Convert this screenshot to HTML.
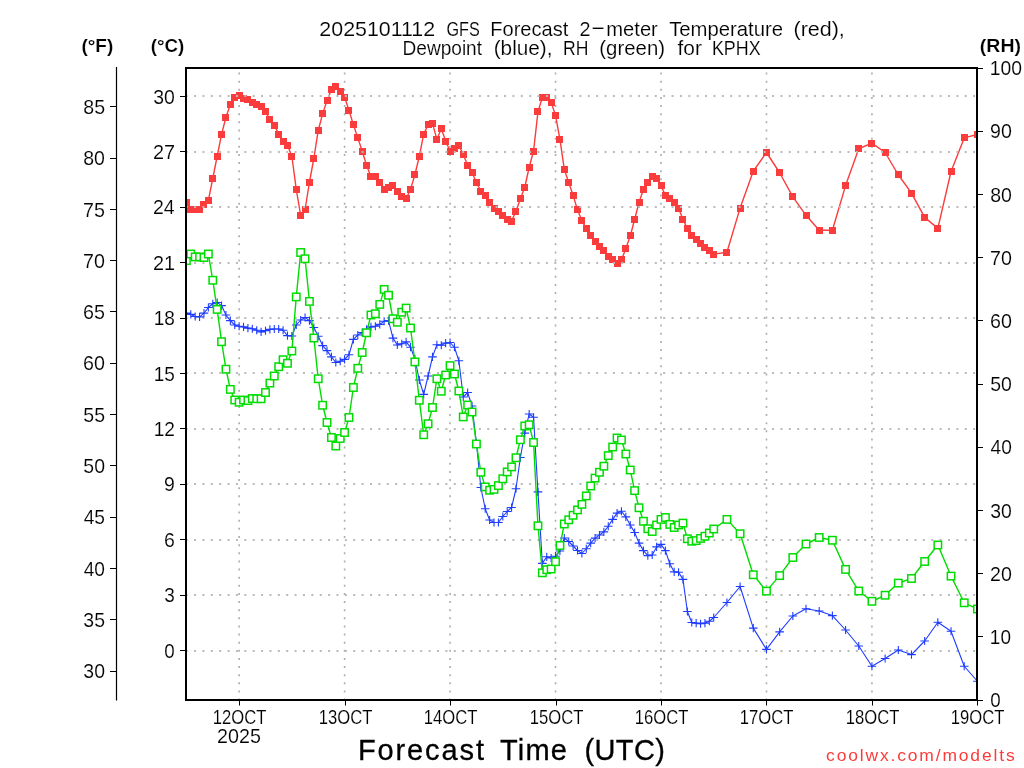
<!DOCTYPE html>
<html><head><meta charset="utf-8"><title>GFS Forecast KPHX</title>
<style>html,body{margin:0;padding:0;background:#fff;width:1024px;height:768px;overflow:hidden}svg{display:block;will-change:transform}</style>
</head><body>
<svg width="1024" height="768" viewBox="0 0 1024 768">
<defs><clipPath id="pc"><rect x="186" y="68" width="791" height="632"/></clipPath></defs>
<rect x="0" y="0" width="1024" height="768" fill="#fff"/>
<g clip-path="url(#pc)">
<g stroke="#adadad" stroke-width="1.6" stroke-dasharray="2 6.13" fill="none">
<line x1="239.13" y1="700.6" x2="239.13" y2="68"/>
<line x1="344.6" y1="700.6" x2="344.6" y2="68"/>
<line x1="450.07" y1="700.6" x2="450.07" y2="68"/>
<line x1="555.53" y1="700.6" x2="555.53" y2="68"/>
<line x1="661" y1="700.6" x2="661" y2="68"/>
<line x1="766.47" y1="700.6" x2="766.47" y2="68"/>
<line x1="871.93" y1="700.6" x2="871.93" y2="68"/>
</g>
<polyline fill="none" stroke="#fa3c3c" stroke-width="1.4" stroke-linejoin="round" points="186.4,202.6 190.79,210 195.19,210 199.58,210 203.98,204.4 208.37,200.4 212.77,178.5 217.16,156.25 221.56,134.4 225.95,117.25 230.34,104.4 234.74,97.5 239.13,95.6 243.53,98.75 247.92,100 252.32,102.25 256.71,104.1 261.11,106.25 265.5,111.9 269.89,119.4 274.29,125 278.68,134.4 283.08,141.25 287.47,145.25 291.87,156.25 296.26,189.4 300.66,215.25 305.05,209.75 309.44,182.25 313.84,158.5 318.23,130.4 322.63,113.75 327.02,100.6 331.42,89.75 335.81,86.25 340.21,91.25 344.6,97.25 348.99,110.4 353.39,124.75 357.78,137.9 362.18,151 366.57,165.4 370.97,176.5 375.36,176.5 379.76,182.25 384.15,189 388.54,187.25 392.94,185.6 397.33,191 401.73,196.9 406.12,198.75 410.52,189.4 414.91,174.75 419.31,156.25 423.7,134.1 428.09,124.75 432.49,123.4 436.88,139.4 441.28,128.5 445.67,141.25 450.07,151 454.46,148.1 458.86,145.6 463.25,154.4 467.64,165.25 472.04,172.75 476.43,182.25 480.83,191.25 485.22,195.4 489.62,202.25 494.01,208.1 498.41,211.5 502.8,215.25 507.19,219.4 511.59,221 515.98,211.25 520.38,198.75 524.77,187.25 529.17,167.25 533.56,151 537.96,111.9 542.35,97.25 546.74,97.25 551.14,102.25 555.53,115.4 559.93,139.4 564.32,169.4 568.72,182.5 573.11,195.4 577.51,210 581.9,220.6 586.29,228.4 590.69,235.9 595.08,241.6 599.48,246.9 603.87,250.6 608.27,256.25 612.66,260 617.06,263.4 621.45,260 625.84,248.4 630.24,236 634.63,219.5 639.03,202.25 643.42,189.5 647.82,182.25 652.21,176.6 656.61,178.25 661,185.75 665.39,195.4 669.79,198.75 674.18,202.25 678.58,208.25 682.97,219.5 687.37,228.5 691.76,235.75 696.16,239.1 700.55,243.5 704.94,247 709.34,250.4 713.73,254.1 726.92,252.25 740.1,208.1 753.28,171.25 766.47,152.5 779.65,172.75 792.83,196.9 806.02,215.3 819.2,230.3 832.38,230.3 845.57,185.6 858.75,148.75 871.93,143.1 885.12,152.5 898.3,174.75 911.48,193.1 924.67,217.4 937.85,228.4 951.03,171.5 964.22,137.9 977.4,134.4"/>
<g fill="#fa3c3c">
<rect x="183" y="199" width="7" height="7"/>
<rect x="187" y="206" width="7" height="7"/>
<rect x="192" y="206" width="7" height="7"/>
<rect x="196" y="206" width="7" height="7"/>
<rect x="200" y="201" width="7" height="7"/>
<rect x="205" y="197" width="7" height="7"/>
<rect x="209" y="175" width="7" height="7"/>
<rect x="214" y="153" width="7" height="7"/>
<rect x="218" y="131" width="7" height="7"/>
<rect x="222" y="114" width="7" height="7"/>
<rect x="227" y="101" width="7" height="7"/>
<rect x="231" y="94" width="7" height="7"/>
<rect x="236" y="92" width="7" height="7"/>
<rect x="240" y="95" width="7" height="7"/>
<rect x="244" y="96" width="7" height="7"/>
<rect x="249" y="99" width="7" height="7"/>
<rect x="253" y="101" width="7" height="7"/>
<rect x="258" y="103" width="7" height="7"/>
<rect x="262" y="108" width="7" height="7"/>
<rect x="266" y="116" width="7" height="7"/>
<rect x="271" y="122" width="7" height="7"/>
<rect x="275" y="131" width="7" height="7"/>
<rect x="280" y="138" width="7" height="7"/>
<rect x="284" y="142" width="7" height="7"/>
<rect x="288" y="153" width="7" height="7"/>
<rect x="293" y="186" width="7" height="7"/>
<rect x="297" y="212" width="7" height="7"/>
<rect x="302" y="206" width="7" height="7"/>
<rect x="306" y="179" width="7" height="7"/>
<rect x="310" y="155" width="7" height="7"/>
<rect x="315" y="127" width="7" height="7"/>
<rect x="319" y="110" width="7" height="7"/>
<rect x="324" y="97" width="7" height="7"/>
<rect x="328" y="86" width="7" height="7"/>
<rect x="332" y="83" width="7" height="7"/>
<rect x="337" y="88" width="7" height="7"/>
<rect x="341" y="94" width="7" height="7"/>
<rect x="345" y="107" width="7" height="7"/>
<rect x="350" y="121" width="7" height="7"/>
<rect x="354" y="134" width="7" height="7"/>
<rect x="359" y="148" width="7" height="7"/>
<rect x="363" y="162" width="7" height="7"/>
<rect x="367" y="173" width="7" height="7"/>
<rect x="372" y="173" width="7" height="7"/>
<rect x="376" y="179" width="7" height="7"/>
<rect x="381" y="186" width="7" height="7"/>
<rect x="385" y="184" width="7" height="7"/>
<rect x="389" y="182" width="7" height="7"/>
<rect x="394" y="188" width="7" height="7"/>
<rect x="398" y="193" width="7" height="7"/>
<rect x="403" y="195" width="7" height="7"/>
<rect x="407" y="186" width="7" height="7"/>
<rect x="411" y="171" width="7" height="7"/>
<rect x="416" y="153" width="7" height="7"/>
<rect x="420" y="131" width="7" height="7"/>
<rect x="425" y="121" width="7" height="7"/>
<rect x="429" y="120" width="7" height="7"/>
<rect x="433" y="136" width="7" height="7"/>
<rect x="438" y="125" width="7" height="7"/>
<rect x="442" y="138" width="7" height="7"/>
<rect x="447" y="148" width="7" height="7"/>
<rect x="451" y="145" width="7" height="7"/>
<rect x="455" y="142" width="7" height="7"/>
<rect x="460" y="151" width="7" height="7"/>
<rect x="464" y="162" width="7" height="7"/>
<rect x="469" y="169" width="7" height="7"/>
<rect x="473" y="179" width="7" height="7"/>
<rect x="477" y="188" width="7" height="7"/>
<rect x="482" y="192" width="7" height="7"/>
<rect x="486" y="199" width="7" height="7"/>
<rect x="491" y="205" width="7" height="7"/>
<rect x="495" y="208" width="7" height="7"/>
<rect x="499" y="212" width="7" height="7"/>
<rect x="504" y="216" width="7" height="7"/>
<rect x="508" y="218" width="7" height="7"/>
<rect x="512" y="208" width="7" height="7"/>
<rect x="517" y="195" width="7" height="7"/>
<rect x="521" y="184" width="7" height="7"/>
<rect x="526" y="164" width="7" height="7"/>
<rect x="530" y="148" width="7" height="7"/>
<rect x="534" y="108" width="7" height="7"/>
<rect x="539" y="94" width="7" height="7"/>
<rect x="543" y="94" width="7" height="7"/>
<rect x="548" y="99" width="7" height="7"/>
<rect x="552" y="112" width="7" height="7"/>
<rect x="556" y="136" width="7" height="7"/>
<rect x="561" y="166" width="7" height="7"/>
<rect x="565" y="179" width="7" height="7"/>
<rect x="570" y="192" width="7" height="7"/>
<rect x="574" y="206" width="7" height="7"/>
<rect x="578" y="217" width="7" height="7"/>
<rect x="583" y="225" width="7" height="7"/>
<rect x="587" y="232" width="7" height="7"/>
<rect x="592" y="238" width="7" height="7"/>
<rect x="596" y="243" width="7" height="7"/>
<rect x="600" y="247" width="7" height="7"/>
<rect x="605" y="253" width="7" height="7"/>
<rect x="609" y="256" width="7" height="7"/>
<rect x="614" y="260" width="7" height="7"/>
<rect x="618" y="256" width="7" height="7"/>
<rect x="622" y="245" width="7" height="7"/>
<rect x="627" y="232" width="7" height="7"/>
<rect x="631" y="216" width="7" height="7"/>
<rect x="636" y="199" width="7" height="7"/>
<rect x="640" y="186" width="7" height="7"/>
<rect x="644" y="179" width="7" height="7"/>
<rect x="649" y="173" width="7" height="7"/>
<rect x="653" y="175" width="7" height="7"/>
<rect x="658" y="182" width="7" height="7"/>
<rect x="662" y="192" width="7" height="7"/>
<rect x="666" y="195" width="7" height="7"/>
<rect x="671" y="199" width="7" height="7"/>
<rect x="675" y="205" width="7" height="7"/>
<rect x="679" y="216" width="7" height="7"/>
<rect x="684" y="225" width="7" height="7"/>
<rect x="688" y="232" width="7" height="7"/>
<rect x="693" y="236" width="7" height="7"/>
<rect x="697" y="240" width="7" height="7"/>
<rect x="701" y="244" width="7" height="7"/>
<rect x="706" y="247" width="7" height="7"/>
<rect x="710" y="251" width="7" height="7"/>
<rect x="723" y="249" width="7" height="7"/>
<rect x="737" y="205" width="7" height="7"/>
<rect x="750" y="168" width="7" height="7"/>
<rect x="763" y="149" width="7" height="7"/>
<rect x="776" y="169" width="7" height="7"/>
<rect x="789" y="193" width="7" height="7"/>
<rect x="803" y="212" width="7" height="7"/>
<rect x="816" y="227" width="7" height="7"/>
<rect x="829" y="227" width="7" height="7"/>
<rect x="842" y="182" width="7" height="7"/>
<rect x="855" y="145" width="7" height="7"/>
<rect x="868" y="140" width="7" height="7"/>
<rect x="882" y="149" width="7" height="7"/>
<rect x="895" y="171" width="7" height="7"/>
<rect x="908" y="190" width="7" height="7"/>
<rect x="921" y="214" width="7" height="7"/>
<rect x="934" y="225" width="7" height="7"/>
<rect x="948" y="168" width="7" height="7"/>
<rect x="961" y="134" width="7" height="7"/>
<rect x="974" y="131" width="7" height="7"/>
</g>
<g stroke="#bababa" stroke-width="2" stroke-dasharray="2 6.377" fill="none">
<line x1="185.69" y1="651" x2="977.0" y2="651"/>
<line x1="185.69" y1="595" x2="977.0" y2="595"/>
<line x1="185.69" y1="540" x2="977.0" y2="540"/>
<line x1="185.69" y1="484" x2="977.0" y2="484"/>
<line x1="185.69" y1="429" x2="977.0" y2="429"/>
<line x1="185.69" y1="373" x2="977.0" y2="373"/>
<line x1="185.69" y1="318" x2="977.0" y2="318"/>
<line x1="185.69" y1="263" x2="977.0" y2="263"/>
<line x1="185.69" y1="207" x2="977.0" y2="207"/>
<line x1="185.69" y1="152" x2="977.0" y2="152"/>
<line x1="185.69" y1="96" x2="977.0" y2="96"/>
</g>
<polyline fill="none" stroke="#1e3cff" stroke-width="1.1" stroke-linejoin="round" points="186.4,313.1 190.79,314.4 195.19,316.5 199.58,316.9 203.98,313.1 208.37,307.5 212.77,303.75 217.16,302.5 221.56,305.6 225.95,315 230.34,320.6 234.74,325 239.13,326.25 243.53,326.9 247.92,328.1 252.32,328.75 256.71,330.25 261.11,331.9 265.5,330.6 269.89,329.4 274.29,329 278.68,329 283.08,330.25 287.47,335.6 291.87,336 296.26,325 300.66,320 305.05,317.5 309.44,320.6 313.84,327.5 318.23,336.25 322.63,345.6 327.02,350.6 331.42,356.9 335.81,362.5 340.21,361.25 344.6,359.4 348.99,354.75 353.39,339.4 357.78,335 362.18,332.5 366.57,329.4 370.97,326.9 375.36,326.25 379.76,324.4 384.15,321.25 388.54,320.6 392.94,338.1 397.33,345 401.73,343.75 406.12,341.9 410.52,347.2 414.91,359 419.31,380 423.7,394.4 428.09,376 432.49,356.9 436.88,344.75 441.28,345.25 445.67,343.1 450.07,342.5 454.46,347.25 458.86,360.8 463.25,397 467.64,392.5 472.04,406 476.43,443 480.83,487.5 485.22,508.75 489.62,520 494.01,522.5 498.41,522.5 502.8,516.5 507.19,511.5 511.59,507.5 515.98,488.75 520.38,457.5 524.77,433.1 529.17,414 533.56,417.25 537.96,491.9 542.35,563.4 546.74,556.8 551.14,558 555.53,556.2 559.93,551 564.32,538 568.72,541.5 573.11,546 577.51,550.5 581.9,553.5 586.29,548.75 590.69,543.1 595.08,538.1 599.48,535 603.87,531.9 608.27,526.25 612.66,519.4 617.06,513.1 621.45,511.25 625.84,516.9 630.24,525 634.63,532.5 639.03,543.1 643.42,550.6 647.82,555.6 652.21,555 656.61,546.9 661,544.4 665.39,550.6 669.79,563.75 674.18,571.9 678.58,572.25 682.97,579.4 687.37,611.5 691.76,622.5 696.16,623.1 700.55,623.75 704.94,623.1 709.34,621.25 713.73,617.5 726.92,602.5 740.1,586.5 753.28,628.1 766.47,649.4 779.65,631.9 792.83,616 806.02,608.75 819.2,611 832.38,615.6 845.57,630 858.75,646 871.93,666.25 885.12,658.5 898.3,650 911.48,654.6 924.67,641 937.85,622.25 951.03,631.25 964.22,666.25 977.4,681.25"/>
<path fill="none" stroke="#1e3cff" stroke-width="1.1" d="M182.1 313.1h8.6M186.4 309v8.2M186.49 314.4h8.6M190.79 310.3v8.2M190.89 316.5h8.6M195.19 312.4v8.2M195.28 316.9h8.6M199.58 312.8v8.2M199.68 313.1h8.6M203.98 309v8.2M204.07 307.5h8.6M208.37 303.4v8.2M208.47 303.75h8.6M212.77 299.65v8.2M212.86 302.5h8.6M217.16 298.4v8.2M217.26 305.6h8.6M221.56 301.5v8.2M221.65 315h8.6M225.95 310.9v8.2M226.04 320.6h8.6M230.34 316.5v8.2M230.44 325h8.6M234.74 320.9v8.2M234.83 326.25h8.6M239.13 322.15v8.2M239.23 326.9h8.6M243.53 322.8v8.2M243.62 328.1h8.6M247.92 324v8.2M248.02 328.75h8.6M252.32 324.65v8.2M252.41 330.25h8.6M256.71 326.15v8.2M256.81 331.9h8.6M261.11 327.8v8.2M261.2 330.6h8.6M265.5 326.5v8.2M265.59 329.4h8.6M269.89 325.3v8.2M269.99 329h8.6M274.29 324.9v8.2M274.38 329h8.6M278.68 324.9v8.2M278.78 330.25h8.6M283.08 326.15v8.2M283.17 335.6h8.6M287.47 331.5v8.2M287.57 336h8.6M291.87 331.9v8.2M291.96 325h8.6M296.26 320.9v8.2M296.36 320h8.6M300.66 315.9v8.2M300.75 317.5h8.6M305.05 313.4v8.2M305.14 320.6h8.6M309.44 316.5v8.2M309.54 327.5h8.6M313.84 323.4v8.2M313.93 336.25h8.6M318.23 332.15v8.2M318.33 345.6h8.6M322.63 341.5v8.2M322.72 350.6h8.6M327.02 346.5v8.2M327.12 356.9h8.6M331.42 352.8v8.2M331.51 362.5h8.6M335.81 358.4v8.2M335.91 361.25h8.6M340.21 357.15v8.2M340.3 359.4h8.6M344.6 355.3v8.2M344.69 354.75h8.6M348.99 350.65v8.2M349.09 339.4h8.6M353.39 335.3v8.2M353.48 335h8.6M357.78 330.9v8.2M357.88 332.5h8.6M362.18 328.4v8.2M362.27 329.4h8.6M366.57 325.3v8.2M366.67 326.9h8.6M370.97 322.8v8.2M371.06 326.25h8.6M375.36 322.15v8.2M375.46 324.4h8.6M379.76 320.3v8.2M379.85 321.25h8.6M384.15 317.15v8.2M384.24 320.6h8.6M388.54 316.5v8.2M388.64 338.1h8.6M392.94 334v8.2M393.03 345h8.6M397.33 340.9v8.2M397.43 343.75h8.6M401.73 339.65v8.2M401.82 341.9h8.6M406.12 337.8v8.2M406.22 347.2h8.6M410.52 343.1v8.2M410.61 359h8.6M414.91 354.9v8.2M415.01 380h8.6M419.31 375.9v8.2M419.4 394.4h8.6M423.7 390.3v8.2M423.79 376h8.6M428.09 371.9v8.2M428.19 356.9h8.6M432.49 352.8v8.2M432.58 344.75h8.6M436.88 340.65v8.2M436.98 345.25h8.6M441.28 341.15v8.2M441.37 343.1h8.6M445.67 339v8.2M445.77 342.5h8.6M450.07 338.4v8.2M450.16 347.25h8.6M454.46 343.15v8.2M454.56 360.8h8.6M458.86 356.7v8.2M458.95 397h8.6M463.25 392.9v8.2M463.34 392.5h8.6M467.64 388.4v8.2M467.74 406h8.6M472.04 401.9v8.2M472.13 443h8.6M476.43 438.9v8.2M476.53 487.5h8.6M480.83 483.4v8.2M480.92 508.75h8.6M485.22 504.65v8.2M485.32 520h8.6M489.62 515.9v8.2M489.71 522.5h8.6M494.01 518.4v8.2M494.11 522.5h8.6M498.41 518.4v8.2M498.5 516.5h8.6M502.8 512.4v8.2M502.89 511.5h8.6M507.19 507.4v8.2M507.29 507.5h8.6M511.59 503.4v8.2M511.68 488.75h8.6M515.98 484.65v8.2M516.08 457.5h8.6M520.38 453.4v8.2M520.47 433.1h8.6M524.77 429v8.2M524.87 414h8.6M529.17 409.9v8.2M529.26 417.25h8.6M533.56 413.15v8.2M533.66 491.9h8.6M537.96 487.8v8.2M538.05 563.4h8.6M542.35 559.3v8.2M542.44 556.8h8.6M546.74 552.7v8.2M546.84 558h8.6M551.14 553.9v8.2M551.23 556.2h8.6M555.53 552.1v8.2M555.63 551h8.6M559.93 546.9v8.2M560.02 538h8.6M564.32 533.9v8.2M564.42 541.5h8.6M568.72 537.4v8.2M568.81 546h8.6M573.11 541.9v8.2M573.21 550.5h8.6M577.51 546.4v8.2M577.6 553.5h8.6M581.9 549.4v8.2M581.99 548.75h8.6M586.29 544.65v8.2M586.39 543.1h8.6M590.69 539v8.2M590.78 538.1h8.6M595.08 534v8.2M595.18 535h8.6M599.48 530.9v8.2M599.57 531.9h8.6M603.87 527.8v8.2M603.97 526.25h8.6M608.27 522.15v8.2M608.36 519.4h8.6M612.66 515.3v8.2M612.76 513.1h8.6M617.06 509v8.2M617.15 511.25h8.6M621.45 507.15v8.2M621.54 516.9h8.6M625.84 512.8v8.2M625.94 525h8.6M630.24 520.9v8.2M630.33 532.5h8.6M634.63 528.4v8.2M634.73 543.1h8.6M639.03 539v8.2M639.12 550.6h8.6M643.42 546.5v8.2M643.52 555.6h8.6M647.82 551.5v8.2M647.91 555h8.6M652.21 550.9v8.2M652.31 546.9h8.6M656.61 542.8v8.2M656.7 544.4h8.6M661 540.3v8.2M661.09 550.6h8.6M665.39 546.5v8.2M665.49 563.75h8.6M669.79 559.65v8.2M669.88 571.9h8.6M674.18 567.8v8.2M674.28 572.25h8.6M678.58 568.15v8.2M678.67 579.4h8.6M682.97 575.3v8.2M683.07 611.5h8.6M687.37 607.4v8.2M687.46 622.5h8.6M691.76 618.4v8.2M691.86 623.1h8.6M696.16 619v8.2M696.25 623.75h8.6M700.55 619.65v8.2M700.64 623.1h8.6M704.94 619v8.2M705.04 621.25h8.6M709.34 617.15v8.2M709.43 617.5h8.6M713.73 613.4v8.2M722.62 602.5h8.6M726.92 598.4v8.2M735.8 586.5h8.6M740.1 582.4v8.2M748.98 628.1h8.6M753.28 624v8.2M762.17 649.4h8.6M766.47 645.3v8.2M775.35 631.9h8.6M779.65 627.8v8.2M788.53 616h8.6M792.83 611.9v8.2M801.72 608.75h8.6M806.02 604.65v8.2M814.9 611h8.6M819.2 606.9v8.2M828.08 615.6h8.6M832.38 611.5v8.2M841.27 630h8.6M845.57 625.9v8.2M854.45 646h8.6M858.75 641.9v8.2M867.63 666.25h8.6M871.93 662.15v8.2M880.82 658.5h8.6M885.12 654.4v8.2M894 650h8.6M898.3 645.9v8.2M907.18 654.6h8.6M911.48 650.5v8.2M920.37 641h8.6M924.67 636.9v8.2M933.55 622.25h8.6M937.85 618.15v8.2M946.73 631.25h8.6M951.03 627.15v8.2M959.92 666.25h8.6M964.22 662.15v8.2M973.1 681.25h8.6M977.4 677.15v8.2"/>
<polyline fill="none" stroke="#00dc00" stroke-width="1.4" stroke-linejoin="round" points="186.4,260.6 190.79,254 195.19,256.9 199.58,256.9 203.98,257.5 208.37,254 212.77,280.25 217.16,309.4 221.56,341.7 225.95,369.2 230.34,389.4 234.74,400 239.13,402.25 243.53,400 247.92,400.6 252.32,398.5 256.71,398.75 261.11,398.75 265.5,392.5 269.89,383.1 274.29,376 278.68,366.7 283.08,359.7 287.47,363.3 291.87,351 296.26,296.9 300.66,252.5 305.05,258.75 309.44,301.4 313.84,338 318.23,378.75 322.63,405.25 327.02,422.5 331.42,437.5 335.81,446 340.21,438.5 344.6,432.5 348.99,417.5 353.39,387.5 357.78,368.3 362.18,352.5 366.57,332.75 370.97,315 375.36,313.75 379.76,304.4 384.15,289.4 388.54,295.25 392.94,318.75 397.33,322.25 401.73,312.25 406.12,308.1 410.52,328 414.91,361.9 419.31,400.25 423.7,434.75 428.09,423.75 432.49,407.5 436.88,378.75 441.28,391.25 445.67,375 450.07,365.6 454.46,374 458.86,391 463.25,416.9 467.64,405 472.04,412 476.43,444 480.83,472.25 485.22,486.9 489.62,490.25 494.01,489.4 498.41,485.6 502.8,478.75 507.19,471.9 511.59,466.9 515.98,457.75 520.38,439.75 524.77,426 529.17,424.75 533.56,442.5 537.96,525.8 542.35,572.8 546.74,569.7 551.14,569 555.53,561.7 559.93,545.5 564.32,524 568.72,519.8 573.11,515.3 577.51,509.9 581.9,504.4 586.29,495.9 590.69,486 595.08,478.1 599.48,472.25 603.87,466.2 608.27,455.6 612.66,447 617.06,438 621.45,440 625.84,454 630.24,470 634.63,490.6 639.03,507.75 643.42,521.25 647.82,528.75 652.21,531.5 656.61,525 661,519.4 665.39,517.5 669.79,524.4 674.18,527.5 678.58,525 682.97,523.1 687.37,538.75 691.76,541.25 696.16,540.6 700.55,538.4 704.94,536.25 709.34,533 713.73,529 726.92,519.4 740.1,533.75 753.28,574.75 766.47,591.1 779.65,575.6 792.83,557.5 806.02,544 819.2,537.5 832.38,540.25 845.57,569.4 858.75,591 871.93,601.3 885.12,595.25 898.3,583.1 911.48,578.5 924.67,561.5 937.85,545 951.03,576.1 964.22,602.8 977.4,609"/>
<g fill="#fff" stroke="#00dc00" stroke-width="1.5">
<rect x="182.7" y="256.9" width="7.4" height="7.4"/>
<rect x="187.09" y="250.3" width="7.4" height="7.4"/>
<rect x="191.49" y="253.2" width="7.4" height="7.4"/>
<rect x="195.88" y="253.2" width="7.4" height="7.4"/>
<rect x="200.28" y="253.8" width="7.4" height="7.4"/>
<rect x="204.67" y="250.3" width="7.4" height="7.4"/>
<rect x="209.07" y="276.55" width="7.4" height="7.4"/>
<rect x="213.46" y="305.7" width="7.4" height="7.4"/>
<rect x="217.86" y="338" width="7.4" height="7.4"/>
<rect x="222.25" y="365.5" width="7.4" height="7.4"/>
<rect x="226.64" y="385.7" width="7.4" height="7.4"/>
<rect x="231.04" y="396.3" width="7.4" height="7.4"/>
<rect x="235.43" y="398.55" width="7.4" height="7.4"/>
<rect x="239.83" y="396.3" width="7.4" height="7.4"/>
<rect x="244.22" y="396.9" width="7.4" height="7.4"/>
<rect x="248.62" y="394.8" width="7.4" height="7.4"/>
<rect x="253.01" y="395.05" width="7.4" height="7.4"/>
<rect x="257.41" y="395.05" width="7.4" height="7.4"/>
<rect x="261.8" y="388.8" width="7.4" height="7.4"/>
<rect x="266.19" y="379.4" width="7.4" height="7.4"/>
<rect x="270.59" y="372.3" width="7.4" height="7.4"/>
<rect x="274.98" y="363" width="7.4" height="7.4"/>
<rect x="279.38" y="356" width="7.4" height="7.4"/>
<rect x="283.77" y="359.6" width="7.4" height="7.4"/>
<rect x="288.17" y="347.3" width="7.4" height="7.4"/>
<rect x="292.56" y="293.2" width="7.4" height="7.4"/>
<rect x="296.96" y="248.8" width="7.4" height="7.4"/>
<rect x="301.35" y="255.05" width="7.4" height="7.4"/>
<rect x="305.74" y="297.7" width="7.4" height="7.4"/>
<rect x="310.14" y="334.3" width="7.4" height="7.4"/>
<rect x="314.53" y="375.05" width="7.4" height="7.4"/>
<rect x="318.93" y="401.55" width="7.4" height="7.4"/>
<rect x="323.32" y="418.8" width="7.4" height="7.4"/>
<rect x="327.72" y="433.8" width="7.4" height="7.4"/>
<rect x="332.11" y="442.3" width="7.4" height="7.4"/>
<rect x="336.51" y="434.8" width="7.4" height="7.4"/>
<rect x="340.9" y="428.8" width="7.4" height="7.4"/>
<rect x="345.29" y="413.8" width="7.4" height="7.4"/>
<rect x="349.69" y="383.8" width="7.4" height="7.4"/>
<rect x="354.08" y="364.6" width="7.4" height="7.4"/>
<rect x="358.48" y="348.8" width="7.4" height="7.4"/>
<rect x="362.87" y="329.05" width="7.4" height="7.4"/>
<rect x="367.27" y="311.3" width="7.4" height="7.4"/>
<rect x="371.66" y="310.05" width="7.4" height="7.4"/>
<rect x="376.06" y="300.7" width="7.4" height="7.4"/>
<rect x="380.45" y="285.7" width="7.4" height="7.4"/>
<rect x="384.84" y="291.55" width="7.4" height="7.4"/>
<rect x="389.24" y="315.05" width="7.4" height="7.4"/>
<rect x="393.63" y="318.55" width="7.4" height="7.4"/>
<rect x="398.03" y="308.55" width="7.4" height="7.4"/>
<rect x="402.42" y="304.4" width="7.4" height="7.4"/>
<rect x="406.82" y="324.3" width="7.4" height="7.4"/>
<rect x="411.21" y="358.2" width="7.4" height="7.4"/>
<rect x="415.61" y="396.55" width="7.4" height="7.4"/>
<rect x="420" y="431.05" width="7.4" height="7.4"/>
<rect x="424.39" y="420.05" width="7.4" height="7.4"/>
<rect x="428.79" y="403.8" width="7.4" height="7.4"/>
<rect x="433.18" y="375.05" width="7.4" height="7.4"/>
<rect x="437.58" y="387.55" width="7.4" height="7.4"/>
<rect x="441.97" y="371.3" width="7.4" height="7.4"/>
<rect x="446.37" y="361.9" width="7.4" height="7.4"/>
<rect x="450.76" y="370.3" width="7.4" height="7.4"/>
<rect x="455.16" y="387.3" width="7.4" height="7.4"/>
<rect x="459.55" y="413.2" width="7.4" height="7.4"/>
<rect x="463.94" y="401.3" width="7.4" height="7.4"/>
<rect x="468.34" y="408.3" width="7.4" height="7.4"/>
<rect x="472.73" y="440.3" width="7.4" height="7.4"/>
<rect x="477.13" y="468.55" width="7.4" height="7.4"/>
<rect x="481.52" y="483.2" width="7.4" height="7.4"/>
<rect x="485.92" y="486.55" width="7.4" height="7.4"/>
<rect x="490.31" y="485.7" width="7.4" height="7.4"/>
<rect x="494.71" y="481.9" width="7.4" height="7.4"/>
<rect x="499.1" y="475.05" width="7.4" height="7.4"/>
<rect x="503.49" y="468.2" width="7.4" height="7.4"/>
<rect x="507.89" y="463.2" width="7.4" height="7.4"/>
<rect x="512.28" y="454.05" width="7.4" height="7.4"/>
<rect x="516.68" y="436.05" width="7.4" height="7.4"/>
<rect x="521.07" y="422.3" width="7.4" height="7.4"/>
<rect x="525.47" y="421.05" width="7.4" height="7.4"/>
<rect x="529.86" y="438.8" width="7.4" height="7.4"/>
<rect x="534.26" y="522.1" width="7.4" height="7.4"/>
<rect x="538.65" y="569.1" width="7.4" height="7.4"/>
<rect x="543.04" y="566" width="7.4" height="7.4"/>
<rect x="547.44" y="565.3" width="7.4" height="7.4"/>
<rect x="551.83" y="558" width="7.4" height="7.4"/>
<rect x="556.23" y="541.8" width="7.4" height="7.4"/>
<rect x="560.62" y="520.3" width="7.4" height="7.4"/>
<rect x="565.02" y="516.1" width="7.4" height="7.4"/>
<rect x="569.41" y="511.6" width="7.4" height="7.4"/>
<rect x="573.81" y="506.2" width="7.4" height="7.4"/>
<rect x="578.2" y="500.7" width="7.4" height="7.4"/>
<rect x="582.59" y="492.2" width="7.4" height="7.4"/>
<rect x="586.99" y="482.3" width="7.4" height="7.4"/>
<rect x="591.38" y="474.4" width="7.4" height="7.4"/>
<rect x="595.78" y="468.55" width="7.4" height="7.4"/>
<rect x="600.17" y="462.5" width="7.4" height="7.4"/>
<rect x="604.57" y="451.9" width="7.4" height="7.4"/>
<rect x="608.96" y="443.3" width="7.4" height="7.4"/>
<rect x="613.36" y="434.3" width="7.4" height="7.4"/>
<rect x="617.75" y="436.3" width="7.4" height="7.4"/>
<rect x="622.14" y="450.3" width="7.4" height="7.4"/>
<rect x="626.54" y="466.3" width="7.4" height="7.4"/>
<rect x="630.93" y="486.9" width="7.4" height="7.4"/>
<rect x="635.33" y="504.05" width="7.4" height="7.4"/>
<rect x="639.72" y="517.55" width="7.4" height="7.4"/>
<rect x="644.12" y="525.05" width="7.4" height="7.4"/>
<rect x="648.51" y="527.8" width="7.4" height="7.4"/>
<rect x="652.91" y="521.3" width="7.4" height="7.4"/>
<rect x="657.3" y="515.7" width="7.4" height="7.4"/>
<rect x="661.69" y="513.8" width="7.4" height="7.4"/>
<rect x="666.09" y="520.7" width="7.4" height="7.4"/>
<rect x="670.48" y="523.8" width="7.4" height="7.4"/>
<rect x="674.88" y="521.3" width="7.4" height="7.4"/>
<rect x="679.27" y="519.4" width="7.4" height="7.4"/>
<rect x="683.67" y="535.05" width="7.4" height="7.4"/>
<rect x="688.06" y="537.55" width="7.4" height="7.4"/>
<rect x="692.46" y="536.9" width="7.4" height="7.4"/>
<rect x="696.85" y="534.7" width="7.4" height="7.4"/>
<rect x="701.24" y="532.55" width="7.4" height="7.4"/>
<rect x="705.64" y="529.3" width="7.4" height="7.4"/>
<rect x="710.03" y="525.3" width="7.4" height="7.4"/>
<rect x="723.22" y="515.7" width="7.4" height="7.4"/>
<rect x="736.4" y="530.05" width="7.4" height="7.4"/>
<rect x="749.58" y="571.05" width="7.4" height="7.4"/>
<rect x="762.77" y="587.4" width="7.4" height="7.4"/>
<rect x="775.95" y="571.9" width="7.4" height="7.4"/>
<rect x="789.13" y="553.8" width="7.4" height="7.4"/>
<rect x="802.32" y="540.3" width="7.4" height="7.4"/>
<rect x="815.5" y="533.8" width="7.4" height="7.4"/>
<rect x="828.68" y="536.55" width="7.4" height="7.4"/>
<rect x="841.87" y="565.7" width="7.4" height="7.4"/>
<rect x="855.05" y="587.3" width="7.4" height="7.4"/>
<rect x="868.23" y="597.6" width="7.4" height="7.4"/>
<rect x="881.42" y="591.55" width="7.4" height="7.4"/>
<rect x="894.6" y="579.4" width="7.4" height="7.4"/>
<rect x="907.78" y="574.8" width="7.4" height="7.4"/>
<rect x="920.97" y="557.8" width="7.4" height="7.4"/>
<rect x="934.15" y="541.3" width="7.4" height="7.4"/>
<rect x="947.33" y="572.4" width="7.4" height="7.4"/>
<rect x="960.52" y="599.1" width="7.4" height="7.4"/>
<rect x="973.7" y="605.3" width="7.4" height="7.4"/>
</g>
</g>
<rect x="186" y="68" width="791" height="632" fill="none" stroke="#000" stroke-width="2"/>
<path fill="none" stroke="#000" stroke-width="1" d="M180 650.5H186M180 595.5H186M180 539.5H186M180 484.5H186M180 428.5H186M180 373.5H186M180 318.5H186M180 262.5H186M180 207.5H186M180 151.5H186M180 96.5H186M977 700.5H983M977 636.5H983M977 573.5H983M977 510.5H983M977 447.5H983M977 384.5H983M977 320.5H983M977 257.5H983M977 194.5H983M977 131.5H983M977 68.5H983M110 671.5H116.5M110 619.5H116.5M110 568.5H116.5M110 517.5H116.5M110 465.5H116.5M110 414.5H116.5M110 363.5H116.5M110 311.5H116.5M110 260.5H116.5M110 209.5H116.5M110 158.5H116.5M110 106.5H116.5M239.5 700V705.5M345.5 700V705.5M450.5 700V705.5M556.5 700V705.5M661.5 700V705.5M766.5 700V705.5M872.5 700V705.5M977.5 700V705.5"/>
<line x1="116.5" y1="67" x2="116.5" y2="700.5" stroke="#000" stroke-width="1.2"/>
<g font-family="'Liberation Sans', 'DejaVu Sans', sans-serif" stroke="#fff" stroke-width="0.15">
<text x="164.27" y="657.6" font-size="19.8" fill="#000" textLength="10.47" lengthAdjust="spacingAndGlyphs">0</text>
<text x="164.28" y="602.2" font-size="19.8" fill="#000" textLength="10.56" lengthAdjust="spacingAndGlyphs">3</text>
<text x="164" y="546.8" font-size="19.8" fill="#000" textLength="10.86" lengthAdjust="spacingAndGlyphs">6</text>
<text x="164.08" y="491.4" font-size="19.8" fill="#000" textLength="10.83" lengthAdjust="spacingAndGlyphs">9</text>
<text x="153.64" y="436" font-size="19.8" fill="#000" textLength="21.32" lengthAdjust="spacingAndGlyphs">12</text>
<text x="153.65" y="380.6" font-size="19.8" fill="#000" textLength="21.15" lengthAdjust="spacingAndGlyphs">15</text>
<text x="153.65" y="325.19" font-size="19.8" fill="#000" textLength="21.17" lengthAdjust="spacingAndGlyphs">18</text>
<text x="152.91" y="269.79" font-size="19.8" fill="#000" textLength="22.07" lengthAdjust="spacingAndGlyphs">21</text>
<text x="152.93" y="214.39" font-size="19.8" fill="#000" textLength="21.64" lengthAdjust="spacingAndGlyphs">24</text>
<text x="152.91" y="158.99" font-size="19.8" fill="#000" textLength="22.09" lengthAdjust="spacingAndGlyphs">27</text>
<text x="153.16" y="103.59" font-size="19.8" fill="#000" textLength="21.6" lengthAdjust="spacingAndGlyphs">30</text>
<text x="83.36" y="678.22" font-size="19.8" fill="#000" textLength="21.6" lengthAdjust="spacingAndGlyphs">30</text>
<text x="83.36" y="626.92" font-size="19.8" fill="#000" textLength="21.66" lengthAdjust="spacingAndGlyphs">35</text>
<text x="83.66" y="575.62" font-size="19.8" fill="#000" textLength="21.29" lengthAdjust="spacingAndGlyphs">40</text>
<text x="83.66" y="524.33" font-size="19.8" fill="#000" textLength="21.35" lengthAdjust="spacingAndGlyphs">45</text>
<text x="83.32" y="473.03" font-size="19.8" fill="#000" textLength="21.64" lengthAdjust="spacingAndGlyphs">50</text>
<text x="83.32" y="421.73" font-size="19.8" fill="#000" textLength="21.71" lengthAdjust="spacingAndGlyphs">55</text>
<text x="83.1" y="370.44" font-size="19.8" fill="#000" textLength="21.88" lengthAdjust="spacingAndGlyphs">60</text>
<text x="83.09" y="319.14" font-size="19.8" fill="#000" textLength="21.94" lengthAdjust="spacingAndGlyphs">65</text>
<text x="83.1" y="267.84" font-size="19.8" fill="#000" textLength="21.88" lengthAdjust="spacingAndGlyphs">70</text>
<text x="83.09" y="216.54" font-size="19.8" fill="#000" textLength="21.94" lengthAdjust="spacingAndGlyphs">75</text>
<text x="83.26" y="165.25" font-size="19.8" fill="#000" textLength="21.71" lengthAdjust="spacingAndGlyphs">80</text>
<text x="83.26" y="113.95" font-size="19.8" fill="#000" textLength="21.77" lengthAdjust="spacingAndGlyphs">85</text>
<text x="990.27" y="707.2" font-size="19.8" fill="#000" textLength="10.47" lengthAdjust="spacingAndGlyphs">0</text>
<text x="989.86" y="644" font-size="19.8" fill="#000" textLength="21.09" lengthAdjust="spacingAndGlyphs">10</text>
<text x="990.02" y="580.8" font-size="19.8" fill="#000" textLength="21.85" lengthAdjust="spacingAndGlyphs">20</text>
<text x="990.26" y="517.6" font-size="19.8" fill="#000" textLength="21.6" lengthAdjust="spacingAndGlyphs">30</text>
<text x="990.56" y="454.4" font-size="19.8" fill="#000" textLength="21.29" lengthAdjust="spacingAndGlyphs">40</text>
<text x="990.22" y="391.2" font-size="19.8" fill="#000" textLength="21.64" lengthAdjust="spacingAndGlyphs">50</text>
<text x="990" y="328" font-size="19.8" fill="#000" textLength="21.88" lengthAdjust="spacingAndGlyphs">60</text>
<text x="990" y="264.8" font-size="19.8" fill="#000" textLength="21.88" lengthAdjust="spacingAndGlyphs">70</text>
<text x="990.16" y="201.6" font-size="19.8" fill="#000" textLength="21.71" lengthAdjust="spacingAndGlyphs">80</text>
<text x="990.08" y="138.4" font-size="19.8" fill="#000" textLength="21.79" lengthAdjust="spacingAndGlyphs">90</text>
<text x="989.83" y="75.2" font-size="19.8" fill="#000" textLength="32.23" lengthAdjust="spacingAndGlyphs">100</text>
<text x="212.83" y="723.9" font-size="20.3" fill="#000" textLength="53.65" lengthAdjust="spacingAndGlyphs">12OCT</text>
<text x="318.83" y="723.9" font-size="20.3" fill="#000" textLength="53.65" lengthAdjust="spacingAndGlyphs">13OCT</text>
<text x="423.83" y="723.9" font-size="20.3" fill="#000" textLength="53.65" lengthAdjust="spacingAndGlyphs">14OCT</text>
<text x="529.83" y="723.9" font-size="20.3" fill="#000" textLength="53.65" lengthAdjust="spacingAndGlyphs">15OCT</text>
<text x="634.83" y="723.9" font-size="20.3" fill="#000" textLength="53.65" lengthAdjust="spacingAndGlyphs">16OCT</text>
<text x="739.83" y="723.9" font-size="20.3" fill="#000" textLength="53.65" lengthAdjust="spacingAndGlyphs">17OCT</text>
<text x="845.83" y="723.9" font-size="20.3" fill="#000" textLength="53.65" lengthAdjust="spacingAndGlyphs">18OCT</text>
<text x="950.83" y="723.9" font-size="20.3" fill="#000" textLength="53.65" lengthAdjust="spacingAndGlyphs">19OCT</text>
<text x="217.12" y="742.9" font-size="19.8" fill="#000" textLength="43.82" lengthAdjust="spacingAndGlyphs">2025</text>
<text x="319.33" y="35.5" font-size="20.2" fill="#000" textLength="115.84" lengthAdjust="spacingAndGlyphs">2025101112</text>
<text x="446.44" y="35.5" font-size="20.2" fill="#000" textLength="33.3" lengthAdjust="spacingAndGlyphs">GFS</text>
<text x="490.26" y="35.5" font-size="20.2" fill="#000" textLength="77.99" lengthAdjust="spacingAndGlyphs">Forecast</text>
<text x="669.15" y="35.5" font-size="20.2" fill="#000" textLength="113.83" lengthAdjust="spacingAndGlyphs">Temperature</text>
<text x="793.47" y="35.5" font-size="20.2" fill="#000" textLength="51.37" lengthAdjust="spacingAndGlyphs">(red),</text>
<text y="35.5" font-size="20.2" fill="#000"><tspan x="579.41" textLength="10.98" lengthAdjust="spacingAndGlyphs">2</tspan><tspan x="590.59" dy="-1.2" textLength="15.22" lengthAdjust="spacingAndGlyphs">-</tspan><tspan x="606.27" dy="1.2" textLength="51.58" lengthAdjust="spacingAndGlyphs">meter</tspan></text>
<text x="402.54" y="54.6" font-size="19.9" fill="#000" textLength="79.5" lengthAdjust="spacingAndGlyphs">Dewpoint</text>
<text x="493.72" y="54.6" font-size="19.9" fill="#000" textLength="58.74" lengthAdjust="spacingAndGlyphs">(blue),</text>
<text x="562.96" y="54.6" font-size="19.9" fill="#000" textLength="25.37" lengthAdjust="spacingAndGlyphs">RH</text>
<text x="599.34" y="54.6" font-size="19.9" fill="#000" textLength="65.67" lengthAdjust="spacingAndGlyphs">(green)</text>
<text x="677.46" y="54.6" font-size="19.9" fill="#000" textLength="24.4" lengthAdjust="spacingAndGlyphs">for</text>
<text x="711.93" y="54.6" font-size="19.9" fill="#000" textLength="48.69" lengthAdjust="spacingAndGlyphs">KPHX</text>
<text x="81.45" y="51.7" font-size="18.3" font-weight="bold" fill="#000" textLength="31.79" lengthAdjust="spacingAndGlyphs">(°F)</text>
<text x="150.66" y="51.7" font-size="18.3" font-weight="bold" fill="#000" textLength="33.58" lengthAdjust="spacingAndGlyphs">(°C)</text>
<text x="979.82" y="51.7" font-size="18.3" font-weight="bold" fill="#000" textLength="41.16" lengthAdjust="spacingAndGlyphs">(RH)</text>
<text x="357.92" y="759.7" font-size="29" fill="#000" letter-spacing="1.89" stroke="#000" stroke-width="0.3">Forecast</text>
<text x="499.96" y="759.7" font-size="29" fill="#000" letter-spacing="1.18" stroke="#000" stroke-width="0.3">Time</text>
<text x="584.45" y="759.7" font-size="29" fill="#000" letter-spacing="0.38" stroke="#000" stroke-width="0.3">(UTC)</text>
<text transform="translate(826.07 760.5) scale(1.12 1)" x="0" y="0" font-size="15.6" fill="#fa3c3c" letter-spacing="1.65" stroke="none">coolwx.com/modelts</text>
</g>
</svg>
</body></html>
